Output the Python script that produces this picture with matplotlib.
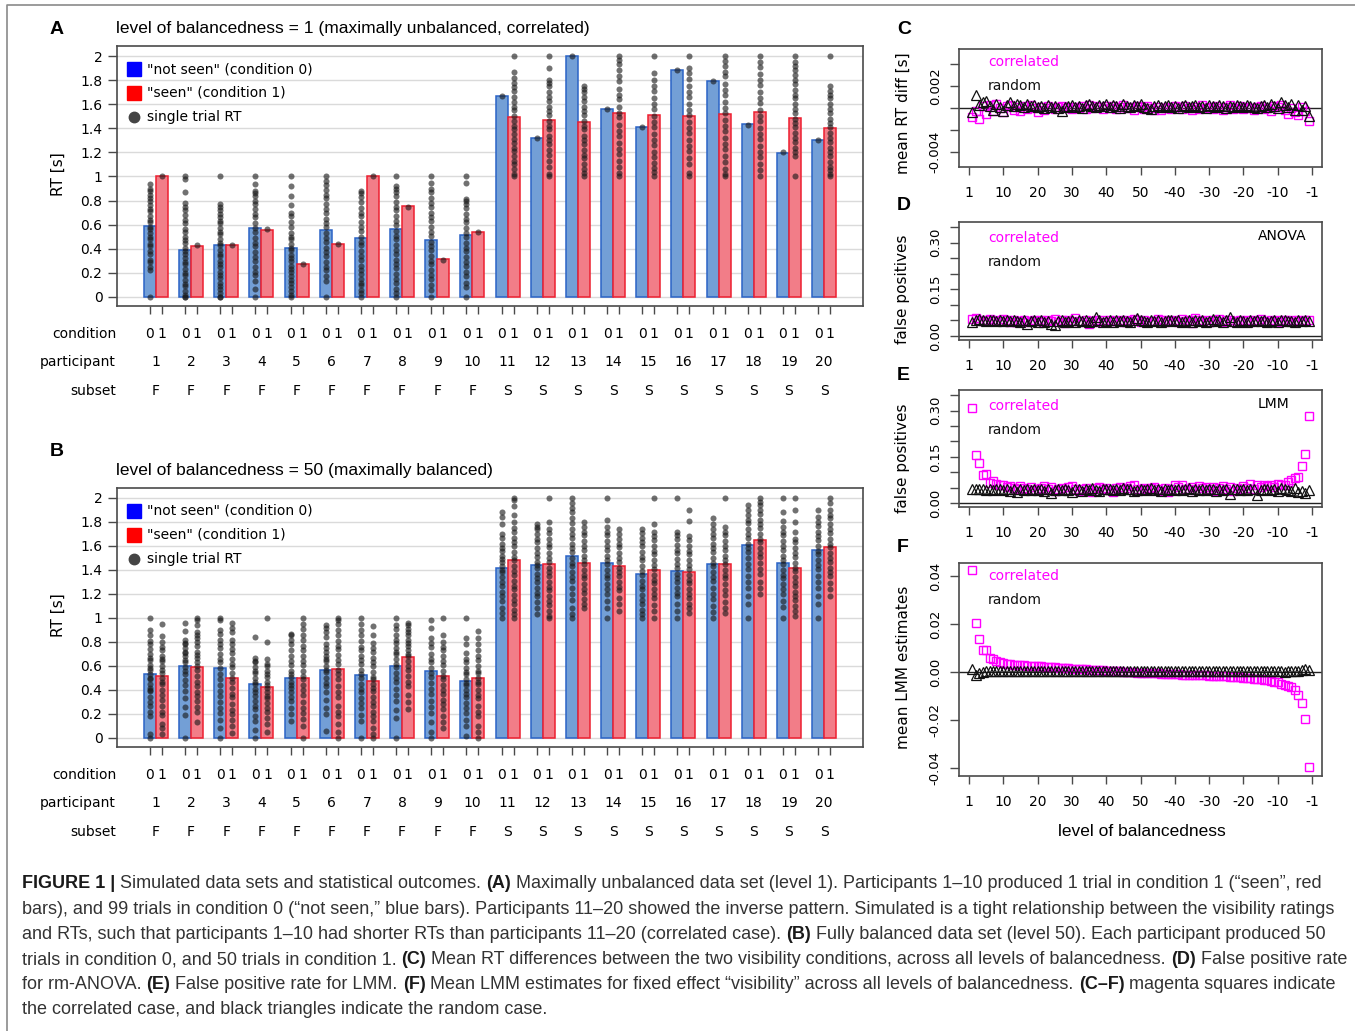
import numpy as np
import matplotlib.pyplot as plt
from matplotlib import font_manager

W, H = 1355, 1031

# ---- panel A / B : means per participant (s) ----
participants = list(range(1, 21))
subsets = ['F'] * 10 + ['S'] * 10

a_mean0 = [0.59, 0.39, 0.43, 0.575, 0.407, 0.556, 0.49, 0.562, 0.47, 0.512,
           1.668, 1.322, 2.0, 1.563, 1.411, 1.881, 1.793, 1.433, 1.198, 1.30]
a_mean1 = [1.0, 0.425, 0.43, 0.558, 0.27, 0.443, 1.0, 0.753, 0.313, 0.54,
           1.491, 1.466, 1.45, 1.527, 1.51, 1.502, 1.516, 1.533, 1.485, 1.40]
b_mean0 = [0.534, 0.598, 0.585, 0.446, 0.499, 0.568, 0.529, 0.601, 0.557, 0.474,
           1.416, 1.441, 1.516, 1.455, 1.369, 1.394, 1.452, 1.61, 1.46, 1.565]
b_mean1 = [0.518, 0.593, 0.501, 0.421, 0.504, 0.576, 0.479, 0.679, 0.518, 0.496,
           1.482, 1.452, 1.46, 1.432, 1.399, 1.385, 1.446, 1.646, 1.419, 1.59]

# single trial RTs (hundredths of a second), read approximately off the dot strips
a_trials0 = [
    [0, 22, 25, 29, 31, 36, 38, 42, 44, 48, 50, 53, 56, 58, 62, 64, 67, 71, 73, 76, 80, 82, 85, 88, 90, 94],
    [0, 0, 2, 5, 9, 11, 14, 18, 20, 23, 27, 29, 32, 36, 38, 41, 45, 47, 50, 54, 56, 61, 64, 68, 72, 75, 78, 87, 98, 100],
    [0, 0, 3, 7, 9, 12, 16, 18, 21, 25, 27, 30, 34, 36, 39, 43, 45, 48, 52, 54, 57, 61, 63, 66, 69, 72, 75, 77, 100],
    [0, 7, 13, 18, 21, 25, 30, 33, 37, 42, 45, 49, 54, 57, 61, 66, 69, 73, 77, 80, 84, 86, 88, 94, 100],
    [0, 2, 5, 8, 12, 14, 17, 21, 23, 26, 30, 32, 35, 39, 41, 44, 48, 50, 53, 58, 62, 67, 70, 76, 84, 92, 100],
    [0, 13, 17, 22, 25, 29, 34, 37, 41, 46, 49, 53, 58, 61, 65, 70, 73, 77, 82, 85, 89, 93, 96, 100],
    [0, 3, 6, 10, 12, 15, 19, 22, 26, 31, 34, 38, 43, 46, 50, 55, 58, 62, 67, 70, 74, 79, 83, 86, 88],
    [0, 3, 7, 12, 15, 19, 24, 27, 31, 36, 39, 43, 48, 51, 55, 60, 63, 67, 72, 75, 79, 84, 87, 90, 92, 100],
    [0, 6, 10, 15, 18, 22, 27, 30, 34, 39, 42, 46, 51, 54, 58, 63, 66, 70, 75, 78, 82, 87, 90, 95, 100],
    [0, 8, 12, 17, 21, 26, 29, 33, 38, 41, 45, 50, 53, 57, 62, 65, 69, 74, 77, 80, 81, 95, 100],
    [167], [132], [200], [156], [141], [188], [179], [143], [120], [130],
]
a_trials1 = [
    [100], [43], [43], [56], [27], [44], [100], [75], [31], [54],
    [100, 102, 106, 110, 113, 117, 121, 124, 128, 131, 135, 139, 142, 146, 150, 155, 158, 162, 166, 171, 174, 178, 182, 187, 200],
    [100, 102, 108, 113, 118, 122, 127, 130, 134, 139, 142, 146, 151, 154, 158, 163, 166, 170, 175, 178, 180, 190, 200],
    [100, 103, 106, 110, 115, 118, 122, 127, 130, 134, 139, 142, 146, 151, 154, 158, 163, 166, 170, 173, 175],
    [100, 103, 108, 113, 119, 123, 128, 134, 138, 143, 149, 153, 158, 164, 168, 173, 179, 183, 188, 193, 197, 200],
    [100, 104, 107, 111, 116, 120, 126, 130, 135, 141, 145, 150, 156, 160, 165, 171, 175, 180, 186, 200],
    [100, 103, 110, 115, 121, 125, 130, 136, 140, 145, 151, 155, 160, 166, 170, 175, 181, 186, 190, 200],
    [100, 102, 106, 112, 117, 123, 127, 132, 138, 142, 147, 153, 157, 162, 168, 172, 177, 183, 187, 192, 196, 200],
    [100, 105, 110, 116, 120, 125, 131, 135, 140, 146, 150, 155, 161, 165, 170, 176, 180, 185, 191, 195, 200],
    [100, 117, 120, 124, 129, 132, 136, 141, 144, 148, 153, 156, 160, 165, 168, 172, 177, 180, 184, 188, 192, 195, 200],
    [100, 102, 105, 108, 112, 117, 120, 124, 129, 132, 136, 141, 144, 148, 153, 156, 160, 165, 168, 171, 175, 200],
]
b_trials0 = [
    [0, 3, 18, 22, 27, 30, 34, 39, 40, 42, 45, 49, 50, 53, 57, 58, 61, 65, 67, 70, 74, 78, 81, 86, 90, 100],
    [0, 19, 26, 33, 39, 44, 48, 53, 56, 59, 63, 65, 68, 71, 72, 75, 78, 79, 82, 89, 96],
    [0, 8, 15, 21, 25, 30, 35, 39, 44, 49, 53, 58, 63, 66, 70, 75, 78, 82, 87, 90, 98, 100],
    [0, 7, 14, 18, 24, 27, 31, 35, 38, 41, 45, 47, 50, 54, 56, 59, 63, 64, 67, 84],
    [14, 20, 25, 31, 34, 38, 42, 44, 47, 51, 53, 56, 61, 64, 68, 73, 78, 82, 86, 87],
    [6, 20, 25, 32, 38, 43, 46, 50, 55, 57, 60, 64, 66, 68, 72, 75, 78, 84, 88, 92, 94],
    [0, 14, 19, 25, 29, 33, 38, 41, 45, 50, 53, 57, 62, 65, 68, 73, 76, 81, 86, 90, 95, 100],
    [0, 17, 23, 31, 36, 41, 47, 50, 54, 59, 62, 66, 70, 72, 75, 79, 82, 86, 91, 94, 100],
    [0, 5, 13, 21, 26, 31, 37, 41, 46, 51, 54, 58, 63, 66, 70, 76, 79, 83, 92, 98],
    [2, 10, 15, 21, 25, 29, 34, 37, 40, 44, 46, 49, 53, 55, 58, 63, 66, 71, 78, 83, 100],
    [100, 104, 108, 114, 118, 122, 127, 130, 134, 138, 140, 143, 147, 149, 152, 156, 158, 162, 167, 170, 178, 184, 188],
    [103, 108, 113, 118, 121, 125, 130, 133, 137, 142, 144, 147, 151, 154, 158, 163, 166, 170, 174, 176, 178],
    [100, 103, 108, 115, 120, 125, 131, 134, 138, 143, 146, 150, 155, 158, 162, 167, 170, 174, 179, 183, 188, 192, 196, 200],
    [100, 108, 114, 120, 124, 128, 133, 136, 140, 145, 148, 152, 157, 160, 164, 169, 172, 176, 182, 200],
    [100, 103, 107, 112, 115, 119, 124, 127, 131, 136, 139, 143, 148, 151, 155, 160, 163, 167, 171, 174],
    [100, 106, 112, 118, 121, 125, 130, 133, 137, 142, 145, 149, 154, 157, 161, 166, 169, 172, 200],
    [100, 105, 110, 116, 120, 125, 131, 134, 138, 143, 146, 150, 155, 158, 162, 167, 170, 174, 178, 183],
    [100, 112, 118, 125, 130, 135, 141, 145, 150, 155, 158, 162, 167, 170, 174, 179, 182, 186, 190, 194],
    [100, 109, 114, 120, 124, 128, 133, 136, 140, 145, 148, 152, 157, 160, 164, 169, 172, 176, 181, 188, 200],
    [100, 112, 118, 125, 130, 135, 141, 144, 148, 153, 156, 160, 165, 168, 172, 177, 180, 184, 190],
]
b_trials1 = [
    [3, 8, 12, 19, 22, 27, 32, 36, 40, 45, 47, 50, 54, 57, 60, 64, 66, 68, 73, 76, 80, 85, 95],
    [13, 22, 26, 31, 35, 38, 43, 47, 52, 57, 60, 63, 67, 69, 72, 77, 80, 83, 86, 88, 94, 98, 100],
    [4, 10, 15, 20, 23, 28, 34, 37, 42, 47, 50, 54, 59, 62, 66, 71, 74, 78, 82, 88, 92, 96],
    [5, 12, 17, 22, 25, 29, 33, 35, 38, 42, 44, 47, 51, 53, 56, 60, 62, 66, 80, 100],
    [0, 10, 16, 21, 25, 30, 36, 40, 44, 49, 52, 56, 61, 64, 68, 73, 77, 82, 86, 91, 95, 100],
    [0, 5, 12, 18, 22, 27, 34, 38, 43, 49, 53, 57, 62, 65, 69, 74, 77, 81, 86, 90, 95, 98, 100],
    [0, 3, 8, 14, 18, 22, 27, 30, 34, 39, 42, 45, 49, 51, 55, 60, 63, 67, 72, 75, 79, 86, 93],
    [24, 30, 36, 43, 47, 52, 57, 60, 64, 68, 70, 73, 77, 79, 82, 86, 88, 91, 94, 96],
    [8, 13, 18, 24, 28, 32, 37, 40, 44, 49, 52, 56, 61, 64, 68, 73, 76, 80, 86, 100],
    [0, 5, 10, 18, 22, 27, 33, 36, 40, 45, 47, 50, 54, 56, 60, 65, 68, 73, 78, 83, 89],
    [100, 103, 107, 112, 115, 119, 124, 127, 131, 136, 139, 143, 148, 151, 155, 160, 163, 167, 172, 175, 180, 186, 193, 198, 200],
    [100, 102, 106, 111, 114, 118, 123, 126, 130, 135, 138, 142, 147, 150, 154, 159, 162, 166, 171, 174, 180, 200],
    [108, 112, 116, 121, 124, 128, 133, 136, 140, 145, 148, 152, 157, 160, 164, 169, 172, 176, 180],
    [106, 112, 117, 123, 126, 130, 135, 138, 142, 147, 150, 154, 159, 162, 166, 170, 174],
    [100, 106, 111, 117, 120, 124, 129, 132, 136, 141, 144, 148, 153, 156, 160, 165, 168, 172, 178, 200],
    [104, 108, 112, 117, 120, 124, 129, 132, 136, 141, 144, 148, 153, 156, 160, 165, 168, 181, 190],
    [104, 108, 113, 119, 123, 128, 133, 136, 140, 145, 148, 152, 157, 160, 164, 169, 172, 176, 200],
    [120, 125, 130, 137, 141, 146, 151, 154, 158, 163, 166, 170, 175, 178, 182, 187, 190, 194, 197, 200],
    [102, 106, 110, 115, 118, 122, 127, 130, 134, 139, 142, 146, 151, 154, 158, 163, 166, 172, 180, 190, 200],
    [118, 124, 129, 135, 138, 142, 147, 150, 154, 159, 162, 166, 171, 174, 178, 183, 186, 190, 196, 200],
]

# ---- panels C-F : one value per level of balancedness (99 levels) ----
levels = list(range(1, 100))
level_ticks = [0, 10, 20, 30, 40, 50, 60, 70, 80, 90, 100]
level_labels = ['1', '10', '20', '30', '40', '50', '-40', '-30', '-20', '-10', '-1']

c_corr = [-8, -3, -10, 2, -5, 3, -3, 4, 0, -4, 2, 3, -2, 1, -3, 2, -1, 3, 0, -4,
          1, -2, 2, 0, -1, 1, 2, 0, 1, -1, 1, 0, 2, -1, 3, 0, 2, 1, -1, 2,
          0, 2, -1, 1, 3, 0, 1, -2, 2, 1, -1, 2, 0, -2, 1, -2, 0, 1, -1, 2,
          1, -1, 2, 0, -2, 1, -1, 3, 0, 1, -1, 2, 0, -2, 1, 3, -1, 0, 2, -1,
          1, 0, -2, 1, 2, -1, 0, -3, 2, 1, 3, -2, -5, 0, -4, -6, 1, -3, -12]
c_rand = [-4, 12, 3, 5, 6, 2, -2, 4, 1, -3, 3, 5, 2, 4, 3, 1, 4, 2, 3, 1,
          2, 0, 3, 1, 2, 0, -3, 1, 2, 3, 1, 2, 0, 3, 4, 2, 1, 3, 2, 4,
          1, 3, 2, 0, 4, 2, 1, 3, 2, 4, 1, 0, -1, 2, 3, 1, 2, 3, 1, 2,
          0, 2, 3, 1, 2, 3, 1, 2, 0, 3, 2, 1, 3, 2, 0, 2, 1, 3, 2, 1,
          3, 2, 1, 0, 2, 3, 1, 4, 2, 0, 5, 3, 1, 4, -2, 3, -2, 2, -7]
d_corr = [55, 58, 52, 48, 50, 54, 47, 53, 49, 56, 50, 46, 52, 44, 48, 51, 45, 49, 53, 47,
          50, 44, 52, 48, 55, 46, 50, 43, 52, 49, 57, 48, 45, 51, 39, 48, 53, 46, 50, 44,
          52, 49, 47, 51, 45, 53, 48, 56, 50, 46, 52, 45, 49, 47, 54, 50, 44, 51, 48, 53,
          46, 55, 49, 52, 43, 57, 50, 47, 53, 45, 51, 48, 54, 46, 50, 52, 45, 49, 53, 47,
          50, 44, 52, 48, 55, 49, 46, 51, 47, 53, 45, 50, 48, 52, 46, 51, 49, 53, 50]
d_rand = [46, 52, 55, 50, 48, 53, 51, 47, 52, 49, 50, 47, 53, 48, 45, 50, 38, 49, 52, 46,
          51, 44, 48, 40, 36, 47, 52, 45, 49, 50, 46, 53, 48, 51, 44, 47, 60, 52, 46, 49,
          50, 45, 53, 48, 51, 47, 44, 52, 58, 50, 48, 46, 53, 49, 51, 45, 47, 52, 50, 48,
          53, 46, 49, 51, 44, 50, 48, 52, 46, 49, 55, 47, 51, 45, 50, 62, 48, 46, 52, 49,
          44, 50, 47, 53, 48, 51, 46, 49, 52, 45, 50, 53, 47, 49, 46, 51, 48, 50, 47]
e_corr = [307, 155, 129, 92, 94, 66, 72, 62, 58, 60, 52, 55, 50, 46, 56, 48, 45, 52, 42, 47,
          50, 54, 44, 52, 40, 46, 49, 43, 51, 55, 47, 38, 44, 50, 41, 36, 48, 52, 45, 50,
          43, 36, 49, 53, 46, 48, 55, 60, 47, 42, 50, 44, 48, 53, 46, 40, 49, 35, 45, 57,
          52, 58, 47, 44, 51, 42, 55, 49, 53, 46, 51, 40, 48, 56, 45, 52, 38, 50, 46, 54,
          49, 62, 47, 58, 53, 60, 55, 58, 52, 62, 58, 60, 68, 75, 80, 86, 119, 160, 283]
e_rand = [45, 46, 44, 47, 43, 45, 42, 46, 44, 43, 45, 40, 47, 35, 44, 42, 46, 41, 45, 43,
          47, 38, 44, 34, 42, 45, 41, 47, 43, 36, 44, 46, 40, 45, 42, 48, 43, 39, 46, 44,
          47, 42, 45, 41, 48, 44, 46, 40, 43, 47, 42, 45, 48, 41, 44, 38, 46, 43, 47, 42,
          45, 41, 44, 48, 39, 46, 43, 45, 42, 47, 44, 40, 46, 43, 45, 28, 44, 47, 42, 45,
          41, 46, 44, 26, 43, 47, 45, 42, 46, 40, 48, 44, 42, 38, 50, 35, 40, 34, 42]
f_corr = [424, 204, 136, 93, 90, 58, 54, 45, 40, 38, 35, 33, 31, 30, 29, 28, 27, 26, 25, 24,
          23, 22, 21, 20, 19, 18, 17, 16, 15, 14, 13, 12, 12, 11, 10, 9, 9, 8, 7, 6,
          5, 4, 3, 3, 2, 1, 0, -1, -2, -3, -4, -4, -5, -6, -6, -7, -8, -8, -9, -10,
          -10, -11, -11, -12, -12, -13, -13, -14, -14, -15, -15, -16, -16, -17, -18, -19, -20, -21, -22, -23,
          -24, -25, -27, -29, -31, -33, -35, -37, -40, -43, -48, -53, -58, -63, -75, -95, -130, -197, -397]
f_rand = [14, -14, -6, 2, 4, 3, 5, 4, 6, 5, 4, 3, 5, 6, 4, 3, 5, 4, 6, 3,
          5, 4, 3, 6, 5, 4, 3, 5, 4, 6, 3, 5, 4, 6, 5, 3, 4, 5, 6, 4,
          5, 3, 4, 6, 5, 4, 3, 5, 6, 4, 5, 4, 6, 3, 5, 4, 6, 5, 3, 4,
          6, 5, 4, 3, 5, 6, 4, 5, 3, 6, 4, 5, 6, 4, 3, 5, 4, 6, 5, 4,
          3, 5, 6, 4, 5, 3, 4, 6, 5, 4, 3, 2, 5, 4, 6, 3, 8, 12, 10]

caption = [
    [("FIGURE 1 |", True), ("Simulated data sets and statistical outcomes.", False), ("(A)", True),
     ("Maximally unbalanced data set (level 1). Participants 1–10 produced 1 trial in condition 1 (“seen”, red", False)],
    [("bars), and 99 trials in condition 0 (“not seen,” blue bars). Participants 11–20 showed the inverse pattern. "
      "Simulated is a tight relationship between the visibility ratings", False)],
    [("and RTs, such that participants 1–10 had shorter RTs than participants 11–20 (correlated case).", False),
     ("(B)", True), ("Fully balanced data set (level 50). Each participant produced 50", False)],
    [("trials in condition 0, and 50 trials in condition 1.", False), ("(C)", True),
     ("Mean RT differences between the two visibility conditions, across all levels of balancedness.", False),
     ("(D)", True), ("False positive rate", False)],
    [("for rm-ANOVA.", False), ("(E)", True), ("False positive rate for LMM.", False), ("(F)", True),
     ("Mean LMM estimates for fixed effect “visibility” across all levels of balancedness.", False),
     ("(C–F)", True), ("magenta squares indicate", False)],
    [("the correlated case, and black triangles indicate the random case.", False)],
]
caption_right = [1322, 1333, 1325, 1341, 1330, 560]

# ---------------------------------------------------------------------------
BLUE_FILL, BLUE_EDGE = '#739fd6', '#2b63c6'
RED_FILL, RED_EDGE = '#f27d88', '#ee1f30'
MAGENTA = '#ff00ff'
SPINE = '#4a4a4a'
ARIAL = ['Liberation Sans', 'DejaVu Sans']

fig = plt.figure(figsize=(W / 100, H / 100), dpi=100)


def box(x0, y0, x1, y1):
    return [x0 / W, 1 - y1 / H, (x1 - x0) / W, (y1 - y0) / H]


def fx(x):
    return x / W


def fy(y):
    return 1 - y / H


def style_spines(ax):
    for s in ax.spines.values():
        s.set_color(SPINE)
        s.set_linewidth(1.2)


def bar_panel(rect, mean0, mean1, trials0, trials1, title, title_y, leg_y, rows_y):
    ax = fig.add_axes(box(*rect))
    x = np.array(participants, dtype=float)
    ax.set_xlim(-0.108, 21.108)
    ax.set_ylim(-0.075, 2.083)
    yt = np.round(np.arange(0, 2.01, 0.2), 1)
    for v in yt:
        ax.axhline(v, color='#dadada', lw=1.0, zorder=0)
    ax.bar(x - 0.17, mean0, width=0.34, color=BLUE_FILL, edgecolor=BLUE_EDGE, lw=1.1, zorder=2)
    ax.bar(x + 0.17, mean1, width=0.34, color=RED_FILL, edgecolor=RED_EDGE, lw=1.1, zorder=2)
    for p, t0, t1 in zip(x, trials0, trials1):
        ax.scatter(np.full(len(t0), p - 0.17), np.array(t0) / 100, s=19, color='#1a1a1a',
                   alpha=0.62, lw=0, zorder=3)
        ax.scatter(np.full(len(t1), p + 0.17), np.array(t1) / 100, s=19, color='#1a1a1a',
                   alpha=0.62, lw=0, zorder=3)
    ax.set_yticks(yt)
    ax.set_yticklabels(['0' if v == 0 else ('%g' % v) for v in yt])
    ax.set_xticks(np.concatenate([x - 0.17, x + 0.17]))
    ax.set_xticklabels([])
    ax.tick_params(axis='y', length=6.5, width=1, color=SPINE, labelsize=10, pad=4)
    ax.tick_params(axis='x', length=6, width=1, color=SPINE)
    style_spines(ax)

    tr = ax.get_xaxis_transform()
    hgt = rect[3] - rect[1]
    row = [1 - (r - rect[1]) / hgt for r in rows_y]
    for p, sub in zip(participants, subsets):
        ax.text(p - 0.17, row[0], '0', transform=tr, ha='center', va='center', fontsize=10, clip_on=False)
        ax.text(p + 0.17, row[0], '1', transform=tr, ha='center', va='center', fontsize=10, clip_on=False)
        ax.text(p, row[1], str(p), transform=tr, ha='center', va='center', fontsize=10, clip_on=False)
        ax.text(p, row[2], sub, transform=tr, ha='center', va='center', fontsize=10, clip_on=False)
    for name, yy in zip(['condition', 'participant', 'subset'], rows_y):
        fig.text(fx(116), fy(yy), name, ha='right', va='center', fontsize=10)

    fig.text(fx(58), fy((rect[1] + rect[3]) / 2 - 2), 'RT [s]', rotation=90, ha='center',
             va='center', fontsize=11)
    fig.text(fx(116), fy(title_y), title, ha='left', va='center', fontsize=12.5, family=ARIAL)

    # legend
    for yy, col in zip(leg_y[:2], ['#0000ff', '#ff0000']):
        fig.lines.append(plt.Line2D([fx(134)], [fy(yy)], marker='s', ms=10, color=col,
                                    lw=0, transform=fig.transFigure))
    fig.lines.append(plt.Line2D([fx(134)], [fy(leg_y[2])], marker='o', ms=7.5, color='#444444',
                                lw=0, transform=fig.transFigure))
    for yy, lab in zip(leg_y, ['"not seen" (condition 0)', '"seen" (condition 1)', 'single trial RT']):
        fig.text(fx(147), fy(yy), lab, ha='left', va='center', fontsize=10)
    return ax


bar_panel((117, 46, 863, 306), a_mean0, a_mean1, a_trials0, a_trials1,
          'level of balancedness = 1 (maximally unbalanced, correlated)', 29,
          [69, 93, 117], [334, 362, 391])
bar_panel((117, 488, 863, 747), b_mean0, b_mean1, b_trials0, b_trials1,
          'level of balancedness = 50 (maximally balanced)', 470,
          [511, 535, 559], [775, 803, 832])
fig.text(fx(50), fy(30), 'A', fontsize=14, weight='bold', family=ARIAL, ha='left', va='center')
fig.text(fx(50), fy(452), 'B', fontsize=14, weight='bold', family=ARIAL, ha='left', va='center')


def level_panel(rect, corr, rand, scale, ylim, yt, ytl, ylabel, ylab_y, letter, letter_y, leg_y, tag=None):
    ax = fig.add_axes(box(*rect))
    ax.set_xlim(-2.92, 102.92)
    ax.set_ylim(*ylim)
    ax.axhline(0, color='#222222', lw=1.0, zorder=1)
    ax.plot(levels, np.array(corr) * scale, 's', ms=5.5, mfc='none', mec=MAGENTA, mew=1.0, zorder=2)
    ax.plot(levels, np.array(rand) * scale, '^', ms=6.8, mfc='none', mec='#111111', mew=0.9, zorder=3)
    ax.set_xticks(level_ticks)
    ax.set_xticklabels(level_labels)
    ax.set_yticks(yt)
    ax.set_yticklabels(ytl)
    for lbl in ax.get_yticklabels():
        lbl.set_rotation(90)
        lbl.set_va('center')
    ax.tick_params(axis='x', length=6, width=1, color=SPINE, labelsize=10, pad=8)
    ax.tick_params(axis='y', length=6.5, width=1, color=SPINE, labelsize=9.5, pad=6)
    style_spines(ax)
    fig.text(fx(903), fy(ylab_y), ylabel, rotation=90, ha='center', va='center', fontsize=11)
    fig.text(fx(897), fy(letter_y), letter, fontsize=14, weight='bold', family=ARIAL,
             ha='left', va='center')
    fig.text(fx(988), fy(leg_y), 'correlated', color=MAGENTA, fontsize=10, ha='left', va='center')
    fig.text(fx(988), fy(leg_y + 24), 'random', color='#111111', fontsize=10, ha='left', va='center')
    if tag:
        fig.text(fx(1258), fy(leg_y - 2), tag, fontsize=10, ha='left', va='center')
    return ax


fp_ticks = [0, 0.05, 0.10, 0.15, 0.20, 0.25, 0.30, 0.35]
fp_labels = ['0.00', '', '', '0.15', '', '', '0.30', '']
level_panel((959, 49, 1322, 167), c_corr, c_rand, 1e-4, (-0.00536, 0.00536),
            [-0.004, -0.002, 0, 0.002, 0.004], ['-0.004', '', '', '0.002', ''],
            'mean RT diff [s]', 113, 'C', 30, 62)
level_panel((959, 222, 1322, 340), d_corr, d_rand, 1e-3, (-0.013, 0.367),
            fp_ticks, fp_labels, 'false positives', 289, 'D', 205, 238, 'ANOVA')
level_panel((959, 390, 1322, 507), e_corr, e_rand, 1e-3, (-0.013, 0.367),
            fp_ticks, fp_labels, 'false positives', 458, 'E', 376, 406, 'LMM')
level_panel((959, 563, 1322, 776), f_corr, f_rand, 1e-4, (-0.0433, 0.0454),
            [-0.04, -0.02, 0, 0.02, 0.04], ['-0.04', '-0.02', '0.00', '0.02', '0.04'],
            'mean LMM estimates', 667, 'F', 547, 576)
fig.text(fx(1142), fy(832), 'level of balancedness', ha='center', va='center', fontsize=12.5,
         family=ARIAL)

# outer frame (top and left edge)
fig.lines.append(plt.Line2D([fx(7), fx(7), 1], [0, fy(5), fy(5)], color='#8a8a8a', lw=1.2,
                            transform=fig.transFigure))

# caption with bold run-ins; pick a narrow face if there is one, then fit the size
names = {f.name for f in font_manager.fontManager.ttflist}
cap_family = 'Liberation Sans Narrow' if 'Liberation Sans Narrow' in names else 'Liberation Sans'
renderer = fig.canvas.get_renderer()


def draw_caption(size, keep):
    probe_a = fig.text(0, 0, 'n n', fontsize=size, family=cap_family)
    probe_b = fig.text(0, 0, 'nn', fontsize=size, family=cap_family)
    space_w = probe_a.get_window_extent(renderer).width - probe_b.get_window_extent(renderer).width
    probe_a.remove()
    probe_b.remove()
    made, ends = [], []
    for i, parts in enumerate(caption):
        yy = 884 + i * 25.2
        xx = 22
        for s, bold in parts:
            t = fig.text(fx(xx), fy(yy), s, fontsize=size, family=cap_family, ha='left', va='center',
                         weight='bold' if bold else 'normal', color='#1a1a1a' if bold else '#333333')
            made.append(t)
            xx = t.get_window_extent(renderer).x1 + space_w
        ends.append(xx - space_w)
    if not keep:
        for t in made:
            t.remove()
    return ends


base = 13.0
ends = draw_caption(base, False)
fit = min((r - 22) / (e - 22) for r, e in zip(caption_right[:5], ends[:5]))
draw_caption(base * fit, True)

fig.savefig('out.png', dpi=100)
